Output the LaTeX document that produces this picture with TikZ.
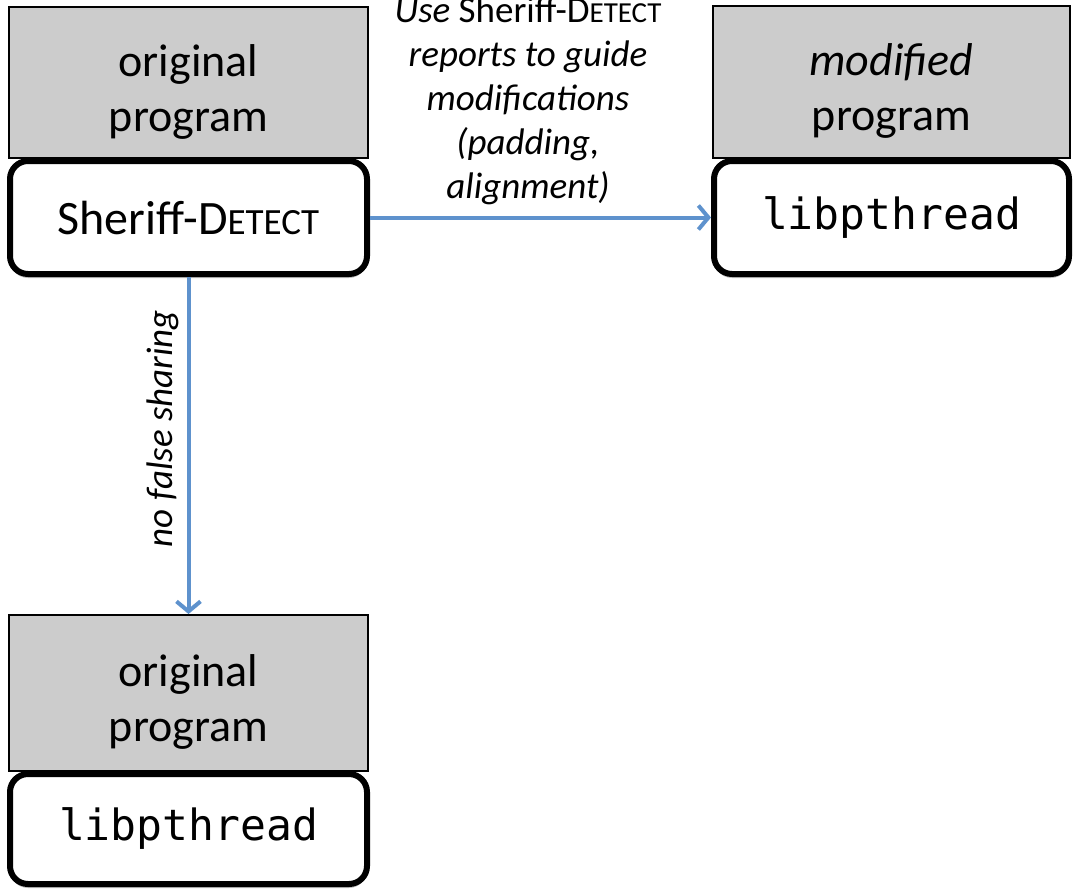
\documentclass[tikz,border=0pt]{standalone}
\usepackage{fontspec}
\setmainfont{Carlito}
\newfontfamily\codefont{DejaVu Sans Mono}
\usetikzlibrary{arrows.meta,shadows}
\definecolor{boxgray}{RGB}{204,204,204}
\definecolor{arrowblue}{RGB}{94,146,205}
\newcommand\detectsc[1]{D{\fontsize{#1}{#1}\selectfont ETECT}}
\tikzset{
  graybox/.style={draw=black, line width=2pt, fill=boxgray, inner sep=0pt},
  boxtext/.style={inner sep=0pt, align=center, font=\fontsize{46}{55}\selectfont},
  whitebox/.style={draw=black, line width=6pt, fill=white, rounded corners=18pt,
    inner sep=0pt, align=center,
    drop shadow={shadow xshift=0pt, shadow yshift=-4pt, opacity=0.25, fill=black}},
  conn/.style={draw=arrowblue, line width=4pt,
    -{Straight Barb[length=10pt,width=24pt,line width=4pt]}},
  lbl/.style={inner sep=0pt, align=center, font=\fontsize{37}{44}\selectfont\itshape},
  codetxt/.style={font=\codefont\fontsize{43}{50}\selectfont},
}
\begin{document}
\begin{tikzpicture}[x=1pt,y=-1pt]
\useasboundingbox (0,0) rectangle (1075,894);
% top-left
\node[graybox, minimum width=359pt, minimum height=151pt] (tlg) at (188.5,82.5) {};
\node[boxtext] (tlgt) at ([yshift=-9pt]tlg.center) {original\\program};
\node[whitebox, minimum width=357pt, minimum height=113pt,
  font=\fontsize{48}{55}\selectfont] (tlw) at (188.5,217.5) {Sheriff-\detectsc{37pt}};
% top-right
\node[graybox, minimum width=357pt, minimum height=152pt] (trg) at (891.5,82) {};
\node[boxtext] (trgt) at ([yshift=-9pt]trg.center) {\textit{modified}\\program};
\node[whitebox, codetxt, minimum width=355pt, minimum height=113pt] (trw) at (891.5,217.5) {libpthread};
% bottom-left
\node[graybox, minimum width=359pt, minimum height=156pt] (blg) at (188.5,693) {};
\node[boxtext] (blgt) at ([yshift=-9pt]blg.center) {original\\program};
\node[whitebox, codetxt, minimum width=357pt, minimum height=110pt] (blw) at (188.5,829) {libpthread};
% connectors
\draw[conn] (tlw.east) -- (trw.west);
\draw[conn] (tlw.south) -- node[pos=0.45, rotate=90, anchor=south, inner sep=8pt,
  font=\fontsize{37}{44}\selectfont\itshape] (nfs) {no false sharing} (blg.north);
\node[lbl] (toplbl) at (528,101) {Use \upshape Sheriff-\detectsc{29pt}\\reports to guide\\modifications\\(padding,\\alignment)};
\end{tikzpicture}
\end{document}
